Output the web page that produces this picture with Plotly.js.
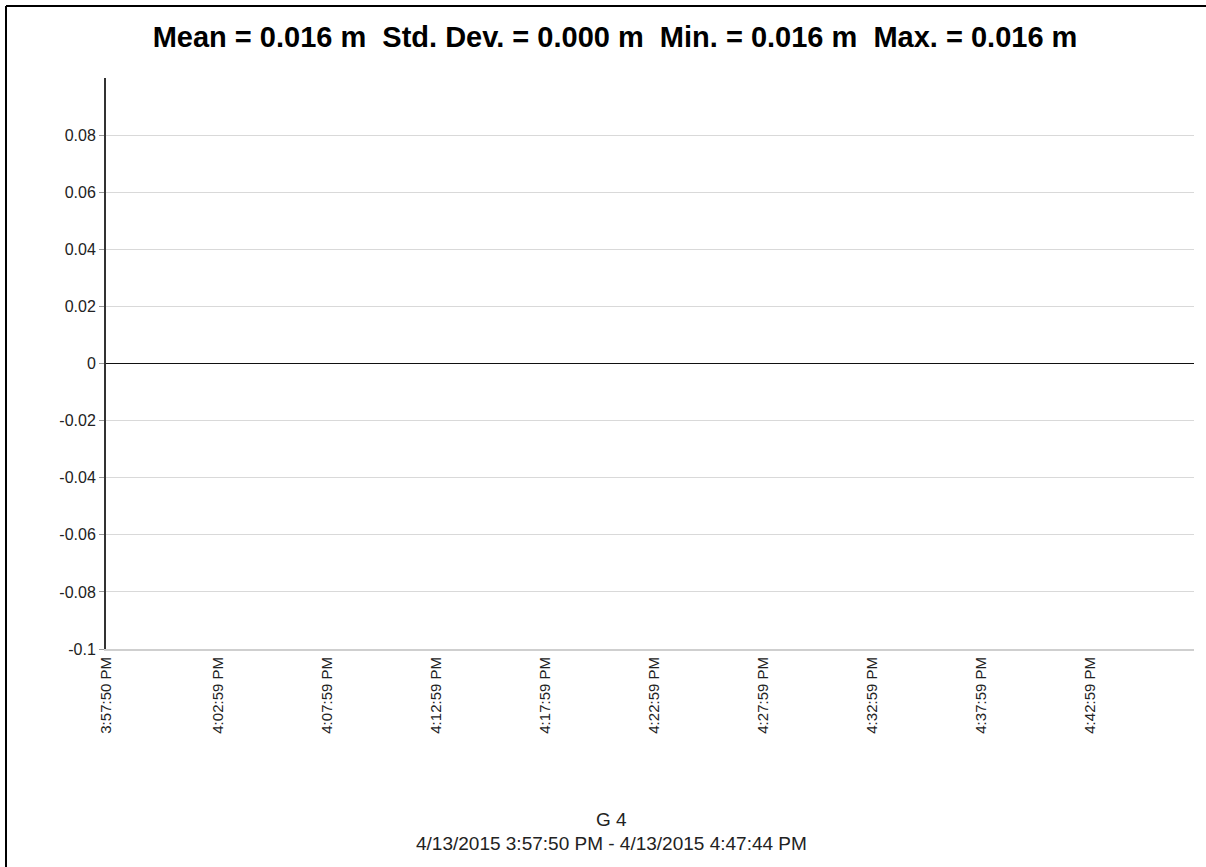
<!DOCTYPE html>
<html>
<head>
<meta charset="utf-8">
<script src="https://cdn.plot.ly/plotly-3.0.1.min.js"></script>
<style>html,body{margin:0;padding:0;background:#fff;}#chart{width:1206px;height:867px;}</style>
</head>
<body>
<div id="chart"></div>
<script>
// Data
const timeStart = "2015-04-13 15:57:50";
const timeEnd = "2015-04-13 16:47:44";
const seriesTimes = [];   // no plotted points visible in the reference
const seriesValues = [];
const xTickVals = ["2015-04-13 15:57:50","2015-04-13 16:02:59","2015-04-13 16:07:59","2015-04-13 16:12:59","2015-04-13 16:17:59","2015-04-13 16:22:59","2015-04-13 16:27:59","2015-04-13 16:32:59","2015-04-13 16:37:59","2015-04-13 16:42:59"];
const xTickText = ["3:57:50 PM","4:02:59 PM","4:07:59 PM","4:12:59 PM","4:17:59 PM","4:22:59 PM","4:27:59 PM","4:32:59 PM","4:37:59 PM","4:42:59 PM"];
const yTickVals = [-0.1,-0.08,-0.06,-0.04,-0.02,0,0.02,0.04,0.06,0.08];
const yTickText = ["-0.1","-0.08","-0.06","-0.04","-0.02","0","0.02","0.04","0.06","0.08"];
const yRange = [-0.1, 0.1];
const titleText = "Mean = 0.016 m  Std. Dev. = 0.000 m  Min. = 0.016 m  Max. = 0.016 m";
const seriesName = "G 4";
const dateRangeText = "4/13/2015 3:57:50 PM - 4/13/2015 4:47:44 PM";

const W = 1206, H = 867;
const L = 106, R = 12, T = 78, B = 218;
const pw = W - L - R, ph = H - T - B;
const px = x => (x - L) / pw;
const py = y => (H - B - y) / ph;

const font = "Liberation Sans, Arial, sans-serif";

const trace = {
  x: seriesTimes, y: seriesValues, type: "scatter", mode: "lines",
  line: {color: "#1f3a93", width: 1}, showlegend: false, hoverinfo: "skip"
};

const layout = {
  width: W, height: H,
  margin: {l: L, r: R, t: T, b: B, pad: 0},
  paper_bgcolor: "#fff", plot_bgcolor: "#fff",
  showlegend: false,
  title: {text: titleText, font: {family: font, size: 29, color: "#000", weight: "bold"},
          x: px(615), xanchor: "center", xref: "paper", y: 1 - 37/H, yanchor: "middle"},
  xaxis: {
    type: "date", range: [timeStart, timeEnd],
    tickmode: "array", tickvals: xTickVals, ticktext: xTickText,
    tickangle: -90, tickfont: {family: font, size: 15, color: "#222"},
    showgrid: false, zeroline: false,
    showline: true, linecolor: "#cfcfcf", linewidth: 2,
    ticks: "", ticklen: 0
  },
  yaxis: {
    range: yRange, tickmode: "array", tickvals: yTickVals, ticktext: yTickText,
    tickfont: {family: font, size: 16, color: "#222"},
    showgrid: true, gridcolor: "#d9d9d9", gridwidth: 1,
    zeroline: true, zerolinecolor: "#111", zerolinewidth: 1.5,
    showline: true, linecolor: "#333", linewidth: 2,
    ticks: "outside", ticklen: 5, tickcolor: "#999", tickwidth: 1,
    ticklabelstandoff: 0
  },
  annotations: [
    {text: seriesName, xref: "paper", yref: "paper", x: px(611), y: py(820), xanchor: "center", yanchor: "middle",
     showarrow: false, font: {family: font, size: 19, color: "#222"}},
    {text: dateRangeText, xref: "paper", yref: "paper", x: px(611), y: py(843), xanchor: "center", yanchor: "middle",
     showarrow: false, font: {family: font, size: 19, color: "#222"}}
  ],
  shapes: [
    {type: "line", xref: "paper", yref: "paper", x0: px(6), x1: px(1206), y0: py(6), y1: py(6), line: {color: "#000", width: 2}},
    {type: "line", xref: "paper", yref: "paper", x0: px(6), x1: px(6), y0: py(6), y1: py(867), line: {color: "#000", width: 2}}
  ]
};

Plotly.newPlot("chart", [trace], layout, {displayModeBar: false, staticPlot: true});
</script>
</body>
</html>
